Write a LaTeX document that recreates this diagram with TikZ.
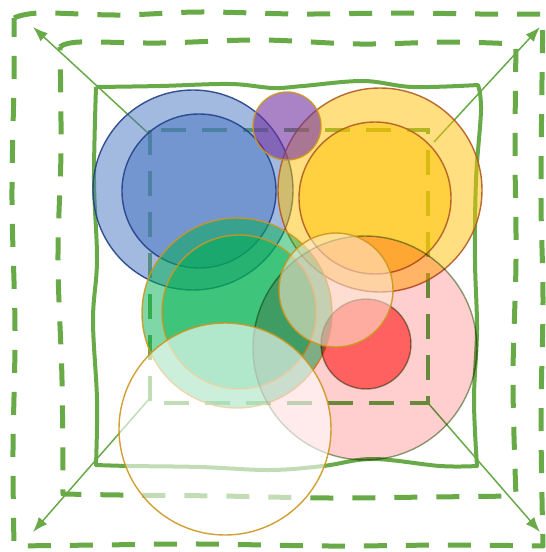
\documentclass[tikz,border=0pt]{standalone}
\usetikzlibrary{arrows.meta}
\definecolor{lg}{RGB}{104,170,72}
\definecolor{cblue}{RGB}{69,115,193}
\definecolor{sblue}{RGB}{35,65,135}
\definecolor{cgold}{RGB}{255,192,0}
\definecolor{sbrown}{RGB}{180,90,35}
\definecolor{cpurple}{RGB}{112,48,160}
\definecolor{sgold}{RGB}{205,150,30}
\definecolor{cpink}{RGB}{255,206,206}
\definecolor{cred}{RGB}{255,120,120}
\definecolor{sdkgreen}{RGB}{90,130,70}
\definecolor{cgreen}{RGB}{0,176,80}
\definecolor{cpeach}{RGB}{255,236,214}
\begin{document}
\begin{tikzpicture}[x=1pt,y=-1pt,
  dashsq/.style={draw=lg, line width=5pt, dash pattern=on 23pt off 19pt, line join=round},
  innerdash/.style={draw=lg, line width=4.5pt, dash pattern=on 25pt off 16pt},
  solidsq/.style={draw=lg, line width=4pt, line join=round},
  arr/.style={draw=lg, line width=1.5pt, -{Latex[length=15pt,width=11pt]}},
  disc/.style 2 args={fill=#1, draw=#2, fill opacity=0.5, draw opacity=0.9, line width=1.4pt},
  mdisc/.style 2 args={fill=#1, draw=#2, draw opacity=0.7, line width=1.4pt}
]
\useasboundingbox (0,0) rectangle (546,552);

% outer hand-drawn dashed square
\path[dashsq] plot[smooth,tension=0.6] coordinates {(14,18) (40,13) (120,15) (200,12) (300,14) (400,13) (480,14) (543,14)}
  -- plot[smooth,tension=0.6] coordinates {(543,14) (542,80) (541,200) (543,300) (541,420) (543,546)}
  -- plot[smooth,tension=0.6] coordinates {(543,546) (450,545) (330,546) (200,544) (100,545) (14,546)}
  -- plot[smooth,tension=0.6] coordinates {(14,546) (13,450) (15,330) (12,200) (14,80) (14,18)};

% second dashed square
\path[dashsq] plot[smooth,tension=0.6] coordinates {(60,47) (80,42) (160,43) (260,40) (360,44) (450,42) (516,44)}
  -- plot[smooth,tension=0.6] coordinates {(516,44) (515,150) (516,260) (513,380) (516,496)}
  -- plot[smooth,tension=0.6] coordinates {(516,496) (430,497) (330,498) (220,496) (120,495) (63,494)}
  -- plot[smooth,tension=0.6] coordinates {(63,494) (62,380) (58,260) (61,150) (60,47)};

% solid hand-drawn square
\path[solidsq] plot[smooth,tension=0.6] coordinates {(96,87) (160,86) (230,84) (273,88) (303,86) (363,81) (413,87) (478,85)}
  -- plot[smooth,tension=0.6] coordinates {(478,85) (481,110) (476,180) (475,260) (477,330) (474,400) (477,466)}
  -- plot[smooth,tension=0.6] coordinates {(477,466) (440,466) (373,459) (323,466) (270,470) (200,467) (130,466) (96,465)}
  -- plot[smooth,tension=0.6] coordinates {(96,465) (97,400) (93,320) (97,260) (94,180) (96,87)};

% inner dashed square
\path[innerdash] (150,130) rectangle (428,403);

% arrows
\coordinate (s1) at (148,133);
\coordinate (e1) at (33,27);
\coordinate (s2) at (434,142);
\coordinate (e2) at (540,27);
\coordinate (s3) at (150,398);
\coordinate (e3) at (33,532);
\coordinate (s4) at (428,403);
\coordinate (e4) at (540,532);
\draw[arr] (s1) -- (e1);
\draw[arr] (s2) -- (e2);
\draw[arr] (s3) -- (e3);
\draw[arr] (s4) -- (e4);

% circles
\path[disc={cblue}{sblue}] (193,190) circle[radius=100];
\path[disc={cblue}{sblue}] (199,191) circle[radius=77];
\path[disc={cgold}{sbrown}] (380,190) circle[radius=102];
\path[disc={cgold}{sbrown}] (375,198) circle[radius=76];
\path[disc={cpurple}{sgold}, fill opacity=0.6] (287,126) circle[radius=34];
\path[disc={cgreen}{sgold}] (237,313) circle[radius=95];
\path[disc={cgreen}{sgold}] (239,312) circle[radius=77];
\begin{scope}[blend mode=multiply]
\path[mdisc={cpink}{sdkgreen}] (365,348) circle[radius=112];
\path[mdisc={cred}{sdkgreen}] (366,344) circle[radius=45];
\end{scope}
\path[disc={cpeach}{sgold}, fill opacity=0.55] (336,290) circle[radius=57];
\path[disc={white}{sgold}, fill opacity=0.6] (225,429) circle[radius=106];
\end{tikzpicture}
\end{document}
